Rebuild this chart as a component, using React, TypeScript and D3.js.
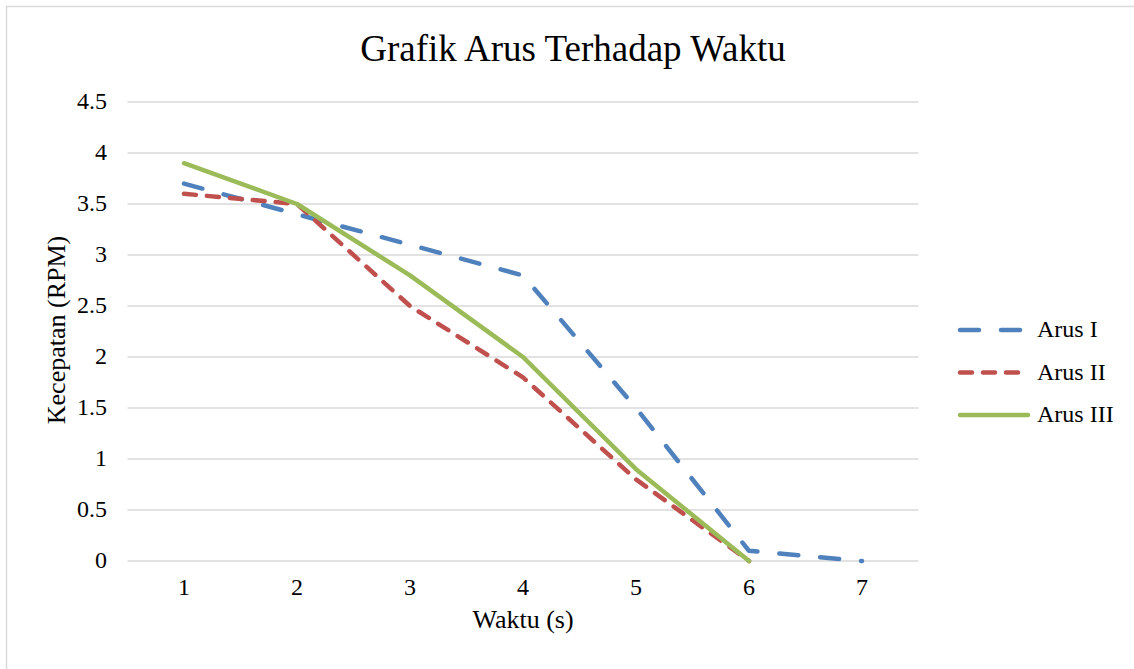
import React from 'react';
import * as d3 from 'd3';

// data
const categories = ['1', '2', '3', '4', '5', '6', '7']
const arus1 = [3.7, 3.4, 3.1, 2.8, 1.5, 0.1, 0]
const arus2 = [3.6, 3.5, 2.5, 1.8, 0.8, 0]
const arus3 = [3.9, 3.5, 2.8, 2.0, 0.9, 0]
const yTicks = [0, 0.5, 1, 1.5, 2, 2.5, 3, 3.5, 4, 4.5]
const seriesNames = ['Arus I', 'Arus II', 'Arus III']

const width = 1134
const height = 669
const font = '"Liberation Serif", "Times New Roman", serif'

const x = d3.scaleBand().domain(categories).range([127.5, 918.5])
const y = d3.scaleLinear().domain([0, 4.5]).range([561, 102])

const series = [
  { name: seriesNames[0], values: arus1, color: '#4f81bd', dash: '19 22' },
  { name: seriesNames[1], values: arus2, color: '#c0504d', dash: '12 11' },
  { name: seriesNames[2], values: arus3, color: '#9bbb59', dash: null },
]

const line = d3.line<number>()
  .x((d, i) => x(categories[i])! + x.bandwidth() / 2)
  .y(d => y(d))

export default function App() {
  return (
    <svg width={width} height={height} style={{ position: 'absolute', left: 0, top: 0, background: '#fff' }} fontFamily={font}>
      <rect x={6.5} y={6.5} width={width + 10} height={height + 10} fill={'#fff'} stroke={'#d9d9d9'} strokeWidth={1.5}></rect>

      <text x={573} y={61} textAnchor={'middle'} fontSize={37} fill={'#000'}>Grafik Arus Terhadap Waktu</text>

      {/* grid + y labels */}
      <g>
        {
          yTicks.map(t => (
            <g key={t}>
              <line x1={x.range()[0]} x2={x.range()[1]} y1={y(t)} y2={y(t)} stroke={'#d9d9d9'} strokeWidth={1.5}></line>
              <text x={107} y={y(t)} dy={'0.3em'} textAnchor={'end'} fontSize={24}>{t}</text>
            </g>
          ))
        }
      </g>

      {/* x labels */}
      <g>
        {
          categories.map(c => (
            <text key={c} x={x(c)! + x.bandwidth() / 2} y={595} textAnchor={'middle'} fontSize={24}>{c}</text>
          ))
        }
      </g>

      <text x={523} y={628} textAnchor={'middle'} fontSize={26}>Waktu (s)</text>
      <text transform={`translate(65, 330) rotate(-90)`} textAnchor={'middle'} fontSize={26}>Kecepatan (RPM)</text>

      {/* lines */}
      <g fill={'none'} strokeLinecap={'round'} strokeLinejoin={'round'} strokeWidth={4.5}>
        {
          series.map(s => (
            <path key={s.name} d={line(s.values)!} stroke={s.color} strokeDasharray={s.dash || undefined}></path>
          ))
        }
      </g>

      {/* legend */}
      <g>
        {
          series.map((s, i) => {
            const ly = 330 + i * 42.5
            return (
              <g key={s.name}>
                <line x1={960} x2={1028} y1={ly} y2={ly} stroke={s.color} strokeWidth={4.5} strokeLinecap={'round'} strokeDasharray={s.dash || undefined}></line>
                <text x={1037} y={ly} dy={'0.3em'} fontSize={24}>{s.name}</text>
              </g>
            )
          })
        }
      </g>
    </svg>
  )
}
